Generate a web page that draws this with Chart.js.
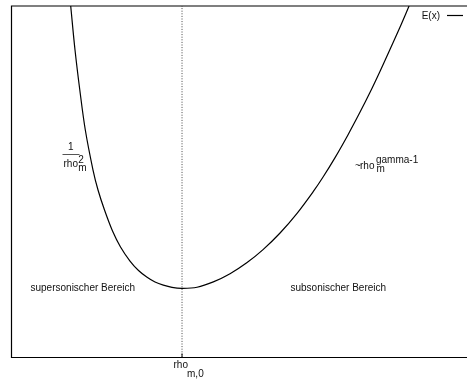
<!DOCTYPE html>
<html>
<head>
<meta charset="utf-8">
<script src="https://cdn.jsdelivr.net/npm/chart.js@4/dist/chart.umd.min.js"></script>
<style>
  html, body { margin: 0; padding: 0; background: #fff; }
  canvas { display: block; }
</style>
</head>
<body>
<canvas id="c" width="467" height="381"></canvas>
<script>
// Density rho_m (in units of rho_m,0) and the energy E(x) along the curve
const rhoM = [0.3453, 0.3706, 0.3988, 0.4312, 0.4765, 0.5059, 0.5441, 0.5912, 0.6382,
              0.6941, 0.7441, 0.7924, 0.8412, 0.8900, 0.9412, 1.0000,
              1.0882, 1.1841, 1.2824, 1.3806, 1.4765, 1.5765, 1.6765, 1.7724,
              1.8276, 1.9000, 1.9765, 2.0471, 2.1059, 2.1647, 2.2235, 2.2824, 2.3353];
const energy = [10.00, 8.748, 7.610, 6.472, 5.334, 4.765, 4.196, 3.599, 3.145,
                2.745, 2.475, 2.290, 2.148, 2.057, 1.994, 1.969,
                1.999, 2.151, 2.384, 2.694, 3.070, 3.542, 4.102, 4.725,
                5.121, 5.687, 6.339, 6.982, 7.545, 8.145, 8.771, 9.403, 10.00];

// Position of the minimum, marked by a dotted vertical line
const rhoM0 = 1.0;
const markerX = [rhoM0, rhoM0];
const markerY = [0, 10];

// Axis ranges
const xRange = [0, 2.676];
const yRange = [0, 10];

const seriesLabel = 'E(x)';

const curvePoints = rhoM.map((x, i) => ({ x: x, y: energy[i] }));
const markerPoints = markerX.map((x, i) => ({ x: x, y: markerY[i] }));

const FONT = '10px "Liberation Sans", Arial, Helvetica, sans-serif';

// Frame, annotations, tick label and key
const decorations = {
  id: 'decorations',
  afterDraw(chart) {
    const ctx = chart.ctx;
    const a = chart.chartArea;
    const xs = chart.scales.x;
    ctx.save();

    // frame: left, top, bottom
    ctx.strokeStyle = '#000';
    ctx.lineWidth = 1.2;
    ctx.beginPath();
    ctx.moveTo(a.right + 2, a.top);
    ctx.lineTo(a.left - 0.5, a.top);
    ctx.lineTo(a.left - 0.5, a.bottom);
    ctx.lineTo(a.right + 2, a.bottom);
    ctx.stroke();

    // small tick at rho_m,0
    const tx = xs.getPixelForValue(rhoM0);
    ctx.lineWidth = 1;
    ctx.beginPath();
    ctx.moveTo(tx, a.bottom);
    ctx.lineTo(tx, a.bottom - 4);
    ctx.stroke();

    ctx.fillStyle = '#111';
    ctx.font = FONT;
    ctx.textBaseline = 'alphabetic';

    // tick label rho_{m,0}
    ctx.textAlign = 'left';
    ctx.fillText('rho', tx - 8.5, a.bottom + 10.5);
    ctx.fillText('m,0', tx + 5, a.bottom + 19.5);

    // region labels
    ctx.fillText('supersonischer Bereich', 30.5, 290.5);
    ctx.fillText('subsonischer Bereich', 290.5, 290.5);

    // 1 / rho_m^2
    ctx.textAlign = 'center';
    ctx.fillText('1', 70.8, 149.8);
    ctx.lineWidth = 1;
    ctx.strokeStyle = '#555';
    ctx.beginPath();
    ctx.moveTo(62.5, 154.5);
    ctx.lineTo(79.5, 154.5);
    ctx.stroke();
    ctx.textAlign = 'left';
    ctx.fillText('rho', 63.5, 167.2);
    ctx.fillText('2', 78.3, 162.8);
    ctx.fillText('m', 78.3, 171.2);

    // ~ rho_m^(gamma-1)
    ctx.fillText('~', 355, 168.5);
    ctx.fillText('rho', 360, 168.5);
    ctx.fillText('gamma-1', 376, 163);
    ctx.fillText('m', 376.5, 171.5);

    // key
    const ds = chart.data.datasets[0];
    ctx.textAlign = 'right';
    ctx.fillText(ds.label, 440, 18.5);
    ctx.strokeStyle = ds.borderColor;
    ctx.lineWidth = ds.borderWidth;
    ctx.beginPath();
    ctx.moveTo(447, 15.5);
    ctx.lineTo(463, 15.5);
    ctx.stroke();

    ctx.restore();
  }
};

new Chart(document.getElementById('c'), {
  type: 'line',
  data: {
    datasets: [
      {
        label: seriesLabel,
        data: curvePoints,
        borderColor: '#000',
        borderWidth: 1.2,
        pointRadius: 0,
        fill: false,
        tension: 0.35
      },
      {
        label: 'rho_m,0',
        data: markerPoints,
        borderColor: '#444',
        borderWidth: 1,
        borderDash: [1, 1.6],
        pointRadius: 0,
        fill: false
      }
    ]
  },
  options: {
    responsive: false,
    animation: false,
    layout: { padding: { left: 12, top: 6, right: 0, bottom: 23.5 } },
    scales: {
      x: { type: 'linear', min: xRange[0], max: xRange[1], display: false },
      y: { type: 'linear', min: yRange[0], max: yRange[1], display: false }
    },
    plugins: {
      legend: { display: false },
      tooltip: { enabled: false }
    }
  },
  plugins: [decorations]
});
</script>
</body>
</html>
